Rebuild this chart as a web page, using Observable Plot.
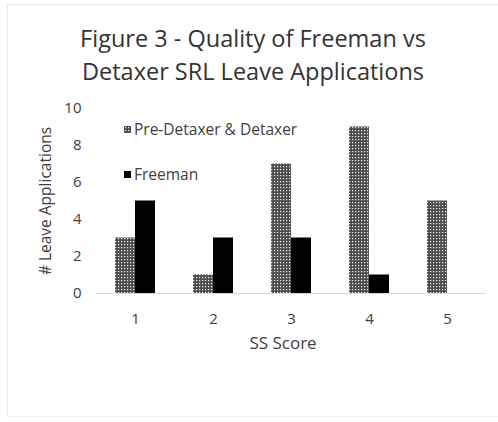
<!DOCTYPE html>
<html>
<head>
<meta charset="utf-8">
<script src="https://cdn.jsdelivr.net/npm/d3@7"></script>
<script src="https://cdn.jsdelivr.net/npm/@observablehq/plot@0.6"></script>
<style>
  html, body { margin: 0; padding: 0; background: #fff; }
  #wrap { position: relative; width: 498px; height: 422px; overflow: hidden; font-family: "Open Sans", Lato, sans-serif; color: #404040; }
  #frame { position: absolute; left: 7px; top: 4px; width: 700px; height: 411px; border-left: 1px solid #e6e6e6; border-top: 1px solid #e6e6e6; border-bottom: 1px solid #f0f0f0; }
  #title { position: absolute; left: 0; width: 506px; top: 22px; text-align: center; font-size: 23.5px; line-height: 33px; color: #333333; }
  #chart { position: absolute; left: 0; top: 0; }
  .legend { position: absolute; font-size: 15.5px; color: #404040; display: flex; align-items: center; white-space: nowrap; }
  .sw { width: 7px; height: 7px; margin-right: 3px; }
  #xlabel { position: absolute; top: 331px; left: 88px; width: 390px; text-align: center; font-size: 17px; color: #404040; }
  #ylabel { position: absolute; left: 45px; top: 201px; transform: translate(-50%, -50%) rotate(-90deg); font-size: 15.5px; color: #404040; white-space: nowrap; }
</style>
</head>
<body>
<div id="wrap">
  <div id="frame"></div>
  <div id="title">Figure 3 - Quality of Freeman vs<br>Detaxer SRL Leave Applications</div>
  <div id="chart"></div>
  <div class="legend" style="left:124px; top:118px;"><svg class="sw" width="7" height="7"><rect width="7" height="7" fill="url(#dots)"/></svg>Pre-Detaxer &amp; Detaxer</div>
  <div class="legend" style="left:124px; top:163px;"><div class="sw" style="background:#000"></div>Freeman</div>
  <div id="xlabel">SS Score</div>
  <div id="ylabel"># Leave Applications</div>
</div>
<script>
const scores = [1, 2, 3, 4, 5];
const seriesNames = ["Pre-Detaxer & Detaxer", "Freeman"];
const preDetaxer = [3, 1, 7, 9, 5];
const freeman = [5, 3, 3, 1, 0];
const yTicks = [0, 2, 4, 6, 8, 10];

const data = [];
scores.forEach((s, i) => {
  data.push({score: s, series: seriesNames[0], value: preDetaxer[i]});
  data.push({score: s, series: seriesNames[1], value: freeman[i]});
});

const chart = Plot.plot({
  width: 498,
  height: 422,
  marginTop: 108,
  marginBottom: 129,
  marginLeft: 96,
  marginRight: 12,
  style: {fontFamily: "'Open Sans', Lato, sans-serif", fontSize: "15px", color: "#404040", background: "transparent"},
  fx: {domain: scores, padding: 0, axis: "bottom", tickSize: 0, tickPadding: 20, label: null},
  x: {domain: seriesNames, paddingInner: 0, paddingOuter: 0.95, axis: null},
  y: {domain: [0, 10], ticks: yTicks, tickSize: 0, tickPadding: 15, label: null},
  color: {domain: seriesNames, range: ["url(#dots)", "#000000"]},
  marks: [
    Plot.barY(data.filter(d => d.value > 0), {fx: "score", x: "series", y: "value", fill: "series"}),
    Plot.ruleY([0], {stroke: "#d9d9d9", strokeWidth: 1})
  ]
});
document.getElementById("chart").appendChild(chart);

const defsHtml = '<pattern id="dots" width="3" height="3" patternUnits="userSpaceOnUse">' +
  '<rect width="3" height="3" fill="#4d4d4d"/>' +
  '<rect x="1" y="1" width="1.2" height="1.2" fill="#f2f2f2"/></pattern>';
d3.select(chart).insert("defs", ":first-child").html(defsHtml);
</script>
</body>
</html>
